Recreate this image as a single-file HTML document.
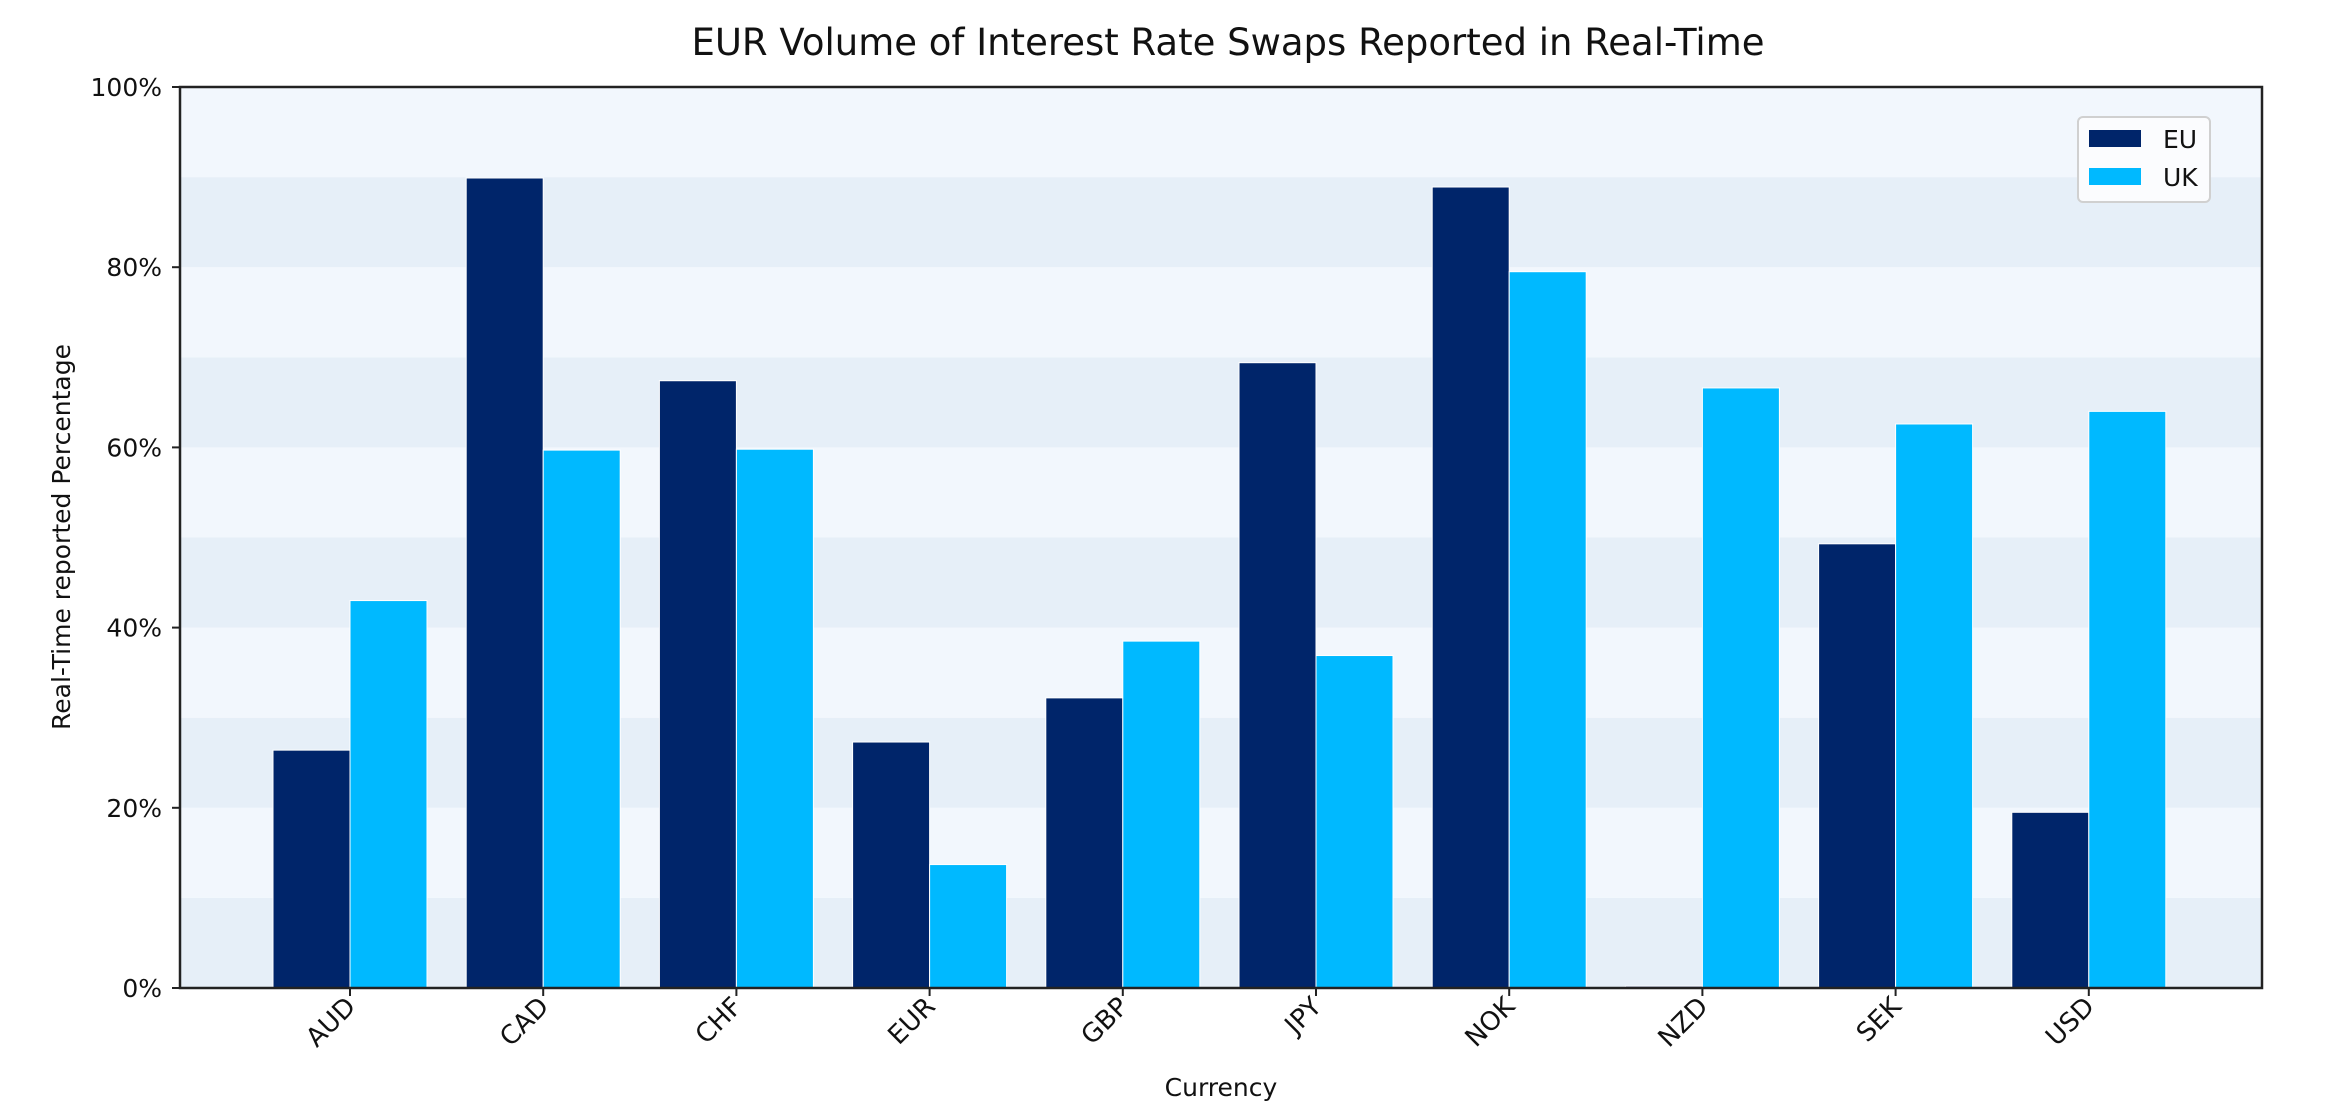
<!DOCTYPE html>
<html><head><meta charset="utf-8"><style>
html,body{margin:0;padding:0;background:#fff;}
svg{display:block;font-family:"DejaVu Sans","Liberation Sans",sans-serif;}
</style></head><body>
<svg id="chart" width="2338" height="1118" viewBox="0 0 2338 1118">
<g id="bands"></g>
<g id="bars"></g>
<g id="axes"></g>
<text x="1228" y="55" text-anchor="middle" font-size="37" fill="#111">EUR Volume of Interest Rate Swaps Reported in Real-Time</text>
<text x="1221" y="1096" text-anchor="middle" font-size="25" fill="#111">Currency</text>
<text transform="translate(70,537) rotate(-90)" text-anchor="middle" font-size="25" fill="#111">Real-Time reported Percentage</text>
<g>
<rect x="2078" y="117" width="132" height="85" rx="5" fill="#fbfcfe" stroke="#d0d0d0" stroke-width="2"/>
<rect x="2089" y="130" width="52" height="17" fill="#00256a"/>
<text x="2163" y="148" font-size="25" fill="#111">EU</text>
<rect x="2089" y="168" width="52" height="17" fill="#00b9ff"/>
<text x="2163" y="186" font-size="25" fill="#111">UK</text>
</g>
</svg>
<script>
const categories = ["AUD","CAD","CHF","EUR","GBP","JPY","NOK","NZD","SEK","USD"];
const euValues = [26.4, 89.9, 67.4, 27.3, 32.2, 69.4, 88.9, 0.2, 49.3, 19.5];
const ukValues = [43.0, 59.7, 59.8, 13.7, 38.5, 36.9, 79.5, 66.6, 62.6, 64.0];
const yTicks = [0, 20, 40, 60, 80, 100];
const yTickLabels = ["0%","20%","40%","60%","80%","100%"];

const NS = "http://www.w3.org/2000/svg";
const L = 180, R = 2262, T = 87, B = 988;
const x0 = 350, step = 193.2, bw = 77;
function xPos(i){ return x0 + i*step; }
function yPos(v){ return B - (v/100)*(B-T); }
function mk(tag, attrs, parent){
  const e = document.createElementNS(NS, tag);
  for (const k in attrs) e.setAttribute(k, attrs[k]);
  parent.appendChild(e); return e;
}
const bands = document.getElementById('bands');
for (let k = 0; k < 10; k++) {
  const r = mk('rect', {x:L, y:yPos((k+1)*10), width:R-L, height:yPos(k*10)-yPos((k+1)*10), fill:(k%2===0)?'#e6eff8':'#f2f7fd'}, bands);
  
  
}
const bars = document.getElementById('bars');
categories.forEach((c, i) => {
  const xc = xPos(i);
  const e = mk('rect', {x:xc-bw, y:yPos(euValues[i]), width:bw, height:B-yPos(euValues[i]), fill:'#00256a', stroke:'#ffffff', 'stroke-width':1}, bars);
  
  
  const u = mk('rect', {x:xc, y:yPos(ukValues[i]), width:bw, height:B-yPos(ukValues[i]), fill:'#00b9ff', stroke:'#ffffff', 'stroke-width':1}, bars);
  
  
});
const axes = document.getElementById('axes');
const frame = mk('rect', {x:L, y:T, width:R-L, height:B-T, fill:'none', stroke:'#222', 'stroke-width':2.5}, axes);


yTicks.forEach((v, i) => {
  const y = yPos(v);
  const t = mk('line', {x1:172, x2:L, y1:y, y2:y, stroke:'#222', 'stroke-width':2}, axes);
  
  
  const lb = mk('text', {x:162, y:y+9, 'text-anchor':'end', 'font-size':25, fill:'#111'}, axes);
  lb.textContent = yTickLabels[i];
  
  
});
categories.forEach((c, i) => {
  const x = xPos(i);
  const t = mk('line', {x1:x, x2:x, y1:B, y2:B+8, stroke:'#222', 'stroke-width':2}, axes);
  
  
  const lb = mk('text', {transform:'translate(' + (x+7) + ',' + (B+20) + ') rotate(-45)', 'text-anchor':'end', 'font-size':26, fill:'#111'}, axes);
  lb.textContent = c;
  
  
});
</script>
</body></html>
